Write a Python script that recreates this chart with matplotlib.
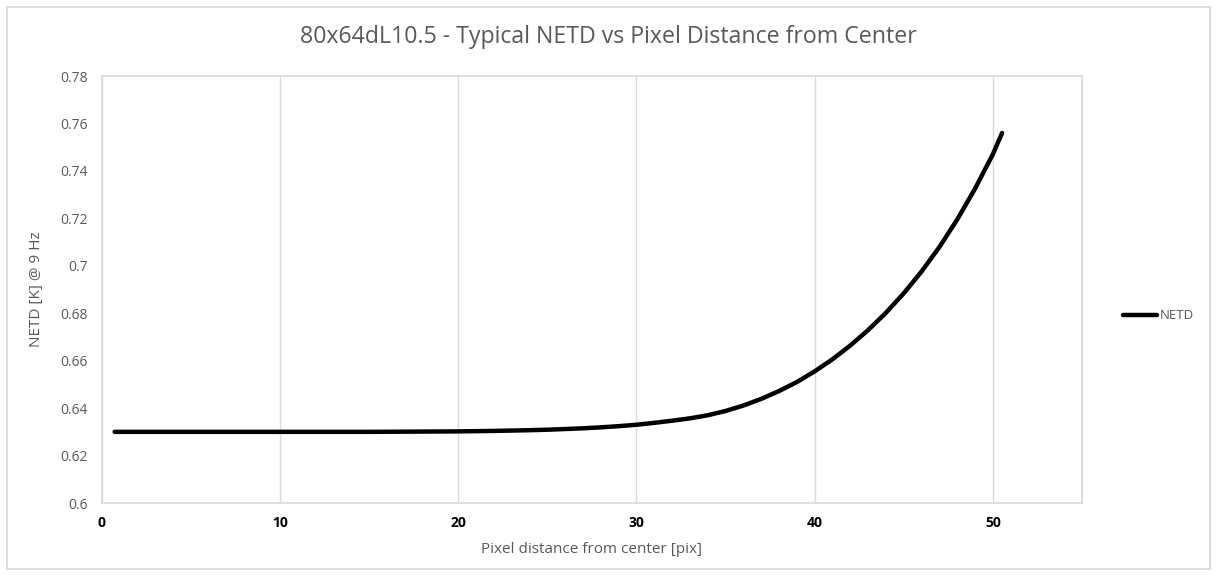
import matplotlib.pyplot as plt
from matplotlib.patches import Rectangle

plt.rcParams['font.family'] = ['Open Sans', 'DejaVu Sans']

# Data
distance = [0.71, 5, 10, 15, 20, 22, 24, 25, 26, 27, 28, 29, 30, 31, 32, 33, 34, 35,
            36, 37, 38, 39, 40, 41, 42, 43, 44, 45, 46, 47, 48, 49, 50, 50.52]
netd = [0.630, 0.630, 0.630, 0.630, 0.6302, 0.6304, 0.6307, 0.6309, 0.6312,
        0.6315, 0.6319, 0.6324, 0.6330, 0.6338, 0.6347, 0.6357, 0.6370, 0.6388,
        0.6411, 0.6439, 0.6472, 0.6510, 0.6555, 0.6606, 0.6664, 0.6729, 0.6802,
        0.6884, 0.6976, 0.7079, 0.7195, 0.7325, 0.7470, 0.7560]
x_ticks = [0, 10, 20, 30, 40, 50]
y_ticks = [0.6, 0.62, 0.64, 0.66, 0.68, 0.7, 0.72, 0.74, 0.76, 0.78]
y_labels = ['0.6', '0.62', '0.64', '0.66', '0.68', '0.7', '0.72', '0.74', '0.76', '0.78']

fig = plt.figure(figsize=(12.17, 5.76), dpi=100)
ax = fig.add_axes([0.0838, 0.1267, 0.8052, 0.7413])

# chart border
fig.patches.append(Rectangle((0.006, 0.012), 0.988, 0.976, transform=fig.transFigure,
                             fill=False, edgecolor='#d9d9d9', linewidth=1.2))

ax.plot(distance, netd, color='black', linewidth=3.2, solid_capstyle='round',
        solid_joinstyle='round', label='NETD')

ax.set_xlim(0, 55)
ax.set_ylim(0.6, 0.78)
ax.set_xticks(x_ticks)
ax.set_yticks(y_ticks)
ax.set_yticklabels(y_labels)
ax.grid(axis='x', color='#d9d9d9', linewidth=1)
ax.set_axisbelow(True)
for s in ax.spines.values():
    s.set_color('#d9d9d9')
    s.set_linewidth(1.2)
ax.tick_params(length=0)
ax.tick_params(axis='y', labelsize=10, labelcolor='#595959', pad=10)
ax.tick_params(axis='x', labelsize=10, labelcolor='black', pad=9)
for t in ax.get_xticklabels():
    t.set_fontweight('bold')

ax.set_xlabel('Pixel distance from center [pix]', fontsize=11, color='#595959', labelpad=9)
ax.set_ylabel('NETD [K] @ 9 Hz', fontsize=11, color='#595959', labelpad=12)
fig.suptitle('80x64dL10.5 - Typical NETD vs Pixel Distance from Center',
             fontsize=16.7, color='#595959', x=0.5, y=0.957)

ax.legend(loc='center left', bbox_to_anchor=(1.03, 0.438), frameon=False,
          fontsize=9.5, labelcolor='#595959', handlelength=2.6, handletextpad=0.2)

fig.savefig('out.png', dpi=100)
